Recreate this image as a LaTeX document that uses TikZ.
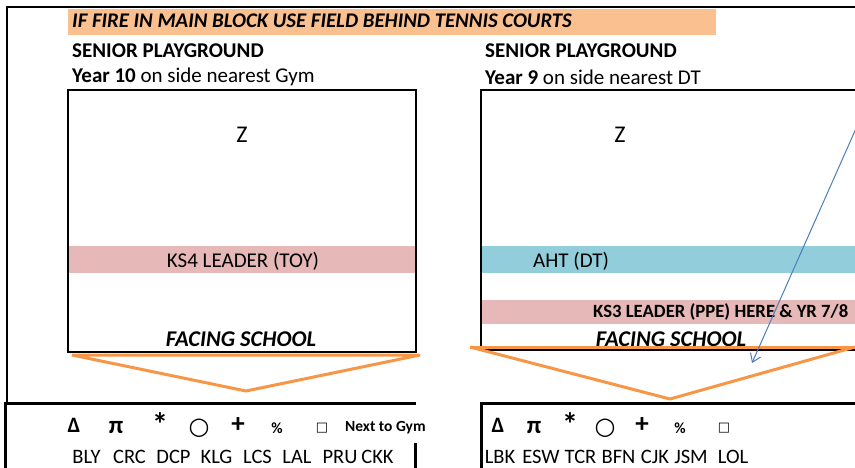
\documentclass[tikz,border=0pt]{standalone}
\usepackage{fontspec}
\setmainfont{Carlito}
\newfontfamily\symfont{DejaVu Sans}
\usetikzlibrary{arrows.meta}
\definecolor{hdrorange}{HTML}{FAC090}
\definecolor{lineorange}{HTML}{F79646}
\definecolor{bandpink}{HTML}{E6B8B7}
\definecolor{bandblue}{HTML}{92CDDC}
\definecolor{arrowblue}{HTML}{4A7EBB}
\tikzset{
  txt/.style={inner sep=0pt, font=\fontsize{21}{24}\selectfont},
  btxt/.style={inner sep=0pt, font=\fontsize{21}{24}\selectfont\bfseries},
  bitxt/.style={inner sep=0pt, font=\fontsize{21}{24}\selectfont\bfseries\itshape},
  frame/.style={line width=2.2pt, black},
  tri/.style={line width=3pt, lineorange, line join=bevel},
  code/.style={inner sep=0pt, font=\fontsize{20.5}{24}\selectfont},
  sym/.style={inner sep=0pt},
}
\begin{document}
\begin{tikzpicture}[x=1pt,y=-1pt]
\useasboundingbox (0,0) rectangle (855,468);
\begin{scope}
\clip (0,0) rectangle (855,468);
% header band
\fill[hdrorange] (68,9) rectangle (716,35);
\node[bitxt, anchor=west, font=\fontsize{20.8}{24}\selectfont\bfseries\itshape] (title) at (72,21) {IF FIRE IN MAIN BLOCK USE FIELD BEHIND TENNIS COURTS};
% outer frame
\draw[frame] (7,403) -- (7,7) -- (860,7);
% headings
\node[btxt, anchor=west] (sp1) at (72,51) {SENIOR PLAYGROUND};
\node[txt, anchor=west] (yr10) at (72,77) {\textbf{Year 10} on side nearest Gym};
\node[btxt, anchor=west] (sp2) at (485,51) {SENIOR PLAYGROUND};
\node[txt, anchor=west] (yr9) at (485,77) {\textbf{Year 9} on side nearest DT};
% bands
\fill[bandpink] (68,246) rectangle (416,273);
\fill[bandblue] (481,246) rectangle (860,273);
\fill[bandpink] (481,300) rectangle (860,324);
% boxes
\draw[frame] (68,90) rectangle (416,352);
\draw[frame] (860,90) -- (481,90) -- (481,350) -- (860,350);
% box texts
\node[txt, font=\fontsize{24}{26}\selectfont] (z1) at (242,135) {Z};
\node[txt, font=\fontsize{24}{26}\selectfont] (z2) at (620,135) {Z};
\node[txt] (ks4) at (243,261) {KS4 LEADER (TOY)};
\node[txt, anchor=west] (aht) at (533,261) {AHT (DT)};
\node[btxt, anchor=west, font=\fontsize{18.7}{22}\selectfont\bfseries] (ks3) at (593,312) {KS3 LEADER (PPE) HERE \& YR 7/8};
\node[bitxt, font=\fontsize{22.5}{24}\selectfont\bfseries\itshape] (fs1) at (241,339) {FACING SCHOOL};
\node[bitxt, font=\fontsize{22.5}{24}\selectfont\bfseries\itshape] (fs2) at (671,339) {FACING SCHOOL};
% orange triangles
\coordinate (l1) at (72,355);
\coordinate (l2) at (420,355);
\coordinate (l3) at (246,391);
\draw[tri] (l1) -- (l2) -- (l3) -- cycle;
\coordinate (r1) at (470,347);
\coordinate (r2) at (870,347);
\coordinate (r3) at (670,399);
\coordinate (r4) at (855,347);
\draw[tri] (r1) -- (r2);
\draw[tri] (r1) -- (r3) -- (r4);
% blue arrow
\coordinate (as) at (858,124);
\coordinate (ae) at (752,363);
\draw[arrowblue, line width=1pt, -{Straight Barb[length=8pt,width=11pt]}] (as) -- (ae);
% bottom boxes
\draw[frame, line width=3pt] (5,470) -- (5,403) -- (416,403);
\draw[frame, line width=3pt] (415,443) -- (415,470);
\draw[frame, line width=3pt] (481,470) -- (481,403) -- (860,403);
% symbols left
\node[sym, font=\fontsize{22}{24}\selectfont\bfseries] (d1) at (74,425) {Δ};
\node[sym, font=\fontsize{25}{27}\selectfont\bfseries] (p1) at (116,428) {π};
\node[sym, font=\fontsize{32}{34}\selectfont\bfseries] (s1) at (160,424) {*};
\node[sym, font=\fontsize{24}{26}\selectfont\symfont] (c1) at (199,428) {○};
\node[sym, font=\fontsize{27}{29}\selectfont\bfseries] (pl1) at (238,425) {+};
\node[sym, font=\fontsize{15.5}{17}\selectfont\bfseries] (pc1) at (277,428) {\%};
\node[sym, font=\fontsize{13}{15}\selectfont\symfont] (sq1) at (322,428) {□};
\node[sym, anchor=west, font=\fontsize{15.5}{17}\selectfont\bfseries] (ntg) at (345,428) {Next to Gym};
% symbols right
\node[sym, font=\fontsize{22}{24}\selectfont\bfseries] (d2) at (498,425) {Δ};
\node[sym, font=\fontsize{25}{27}\selectfont\bfseries] (p2) at (534,428) {π};
\node[sym, font=\fontsize{32}{34}\selectfont\bfseries] (s2) at (570,424) {*};
\node[sym, font=\fontsize{24}{26}\selectfont\symfont] (c2) at (605,428) {○};
\node[sym, font=\fontsize{27}{29}\selectfont\bfseries] (pl2) at (642,425) {+};
\node[sym, font=\fontsize{15.5}{17}\selectfont\bfseries] (pc2) at (680,428) {\%};
\node[sym, font=\fontsize{13}{15}\selectfont\symfont] (sq2) at (724,428) {□};
% codes left
\node[code] (bly) at (86.5,457) {BLY};
\node[code] (crc) at (129.5,457) {CRC};
\node[code] (dcp) at (173.5,457) {DCP};
\node[code] (klg) at (216.5,457) {KLG};
\node[code] (lcs) at (257.5,457) {LCS};
\node[code] (lal) at (297,457) {LAL};
\node[code] (pru) at (340,457) {PRU};
\node[code] (ckk) at (377.5,457) {CKK};
% codes right
\node[code] (lbk) at (500,457) {LBK};
\node[code] (esw) at (541,457) {ESW};
\node[code] (tcr) at (580.5,457) {TCR};
\node[code] (bfn) at (618.5,457) {BFN};
\node[code] (cjk) at (655,457) {CJK};
\node[code] (jsm) at (691,457) {JSM};
\node[code] (lol) at (733,457) {LOL};
\end{scope}
\end{tikzpicture}
\end{document}
